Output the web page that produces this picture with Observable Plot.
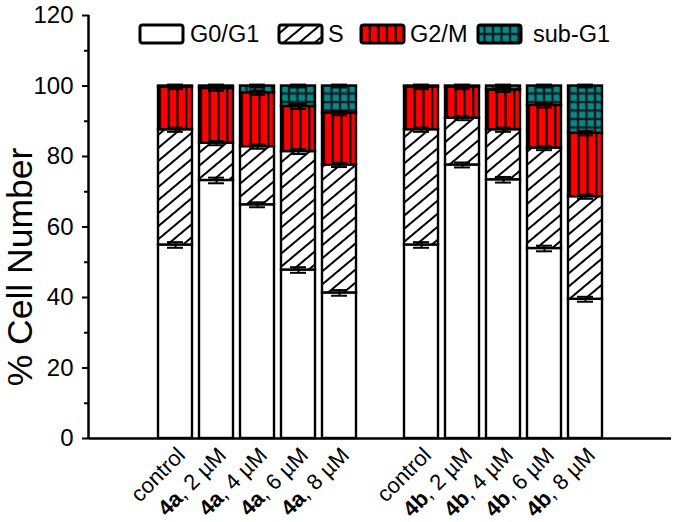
<!DOCTYPE html>
<html><head><meta charset="utf-8">
<script src="https://cdn.jsdelivr.net/npm/d3@7"></script>
<script src="https://cdn.jsdelivr.net/npm/@observablehq/plot@0.6"></script>
<style>
body{margin:0;background:#fff;}
#chart svg{display:block;}
</style></head>
<body><div id="chart"></div>
<script>
// ---- data ----
const ids = ["a0","a2","a4","a6","a8","gap","b0","b2","b4","b6","b8"];
const tickLabels = ["control","4a, 2 µM","4a, 4 µM","4a, 6 µM","4a, 8 µM","","control","4b, 2 µM","4b, 4 µM","4b, 6 µM","4b, 8 µM"];
const phases = ["G0/G1","S","G2/M","sub-G1"];
const g0g1  = [54.9, 73.2, 66.3, 47.8, 41.3, null, 54.9, 77.6, 73.4, 53.9, 39.5];
const sPh   = [32.7, 10.6, 16.5, 33.6, 36.3, null, 32.7, 13.3, 14.2, 28.5, 29.1];
const g2m   = [12.1, 15.5, 15.3, 12.8, 14.7, null, 12.1,  8.8, 11.3, 12.1, 18.0];
const subG1 = [ 0.3,  0.7,  1.9,  5.8,  7.7, null,  0.3,  0.3,  1.1,  5.5, 13.4];
const errG0 = [0.8, 0.8, 0.7, 0.8, 0.8, null, 0.8, 0.7, 0.8, 0.8, 0.7];
const errS  = [0.6, 0.6, 0.6, 0.7, 0.6, null, 0.6, 0.6, 0.6, 0.6, 0.6];
const errG2 = [0.6, 0.6, 0.6, 0.7, 0.6, null, 0.6, 0.6, 0.6, 0.6, 0.6];
const errSub= [0.4, 0.4, 0.4, 0.4, 0.4, null, 0.4, 0.4, 0.4, 0.4, 0.4];
const yTicks = [0, 20, 40, 60, 80, 100, 120];
const yMinor = [10, 30, 50, 70, 90, 110];

// ---- build tables ----
const series = [g0g1, sPh, g2m, subG1];
const errs = [errG0, errS, errG2, errSub];
const rows = [];
const errRows = [];
ids.forEach((id, i) => {
  if (g0g1[i] == null) return;
  let cum = 0;
  phases.forEach((p, k) => {
    rows.push({id, phase: p, value: series[k][i]});
    cum += series[k][i];
    errRows.push({id, top: cum, err: errs[k][i]});
  });
});
const labelOf = Object.fromEntries(ids.map((d, i) => [d, tickLabels[i]]));
const FONT = "Arial, 'Liberation Sans', sans-serif";

const plot = Plot.plot({
  width: 675,
  height: 522,
  marginLeft: 89,
  marginRight: 4,
  marginTop: 15,
  marginBottom: 84,
  style: {fontFamily: FONT, color: "black", background: "white", overflow: "visible"},
  x: {type: "band", domain: ids, paddingInner: 0.179, paddingOuter: 1.62, axis: null, label: null},
  y: {domain: [0, 120], axis: null, label: null},
  color: {domain: phases, range: ["white", "url(#pS)", "url(#pG2)", "url(#pSub)"]},
  marks: [
    Plot.barY(rows, Plot.stackY({order: null}, {x: "id", y: "value", fill: "phase", stroke: "black", strokeWidth: 2.4})),
    Plot.ruleX(errRows, {x: "id", y1: d => d.top - d.err, y2: d => d.top + d.err, stroke: "black", strokeWidth: 2}),
    Plot.tickY(errRows, {x: "id", y: d => d.top + d.err, stroke: "black", strokeWidth: 2, insetLeft: 9, insetRight: 9}),
    Plot.tickY(errRows, {x: "id", y: d => d.top - d.err, stroke: "black", strokeWidth: 2, insetLeft: 9, insetRight: 9}),
    Plot.ruleY([0], {stroke: "black", strokeWidth: 2.5}),
    Plot.axisY(yTicks, {label: null, tickSize: 7, tickPadding: 9, fontSize: 24, strokeWidth: 2}),
    Plot.axisY(yMinor, {label: null, tickSize: 5, tickFormat: () => "", strokeWidth: 2}),
    Plot.axisX({label: null, tickSize: 0, tickPadding: 12, tickRotate: -45, fontSize: 22, dx: 6, dy: 1, tickFormat: d => labelOf[d]})
  ]
});

const svg = d3.select(plot);
const defs = svg.insert("defs", ":first-child");
// S phase hatch
const ph = defs.append("pattern").attr("id", "pS").attr("patternUnits", "userSpaceOnUse")
  .attr("width", 10).attr("height", 10).attr("patternTransform", "rotate(50)");
ph.append("rect").attr("width", 10).attr("height", 10).attr("fill", "white");
ph.append("line").attr("x1", 5).attr("x2", 5).attr("y1", -1).attr("y2", 11).attr("stroke", "black").attr("stroke-width", 2);
// G2/M vertical lines
const pg = defs.append("pattern").attr("id", "pG2").attr("patternUnits", "objectBoundingBox")
  .attr("patternContentUnits", "objectBoundingBox").attr("x", 0.02).attr("y", 0).attr("width", 0.26).attr("height", 1);
pg.append("rect").attr("width", 0.26).attr("height", 1).attr("fill", "#ff0000");
pg.append("rect").attr("width", 0.065).attr("height", 1).attr("fill", "black");
const pgl = defs.append("pattern").attr("id", "pG2L").attr("patternUnits", "objectBoundingBox")
  .attr("patternContentUnits", "objectBoundingBox").attr("x", 0.1).attr("y", 0).attr("width", 0.2).attr("height", 1);
pgl.append("rect").attr("width", 0.2).attr("height", 1).attr("fill", "#ff0000");
pgl.append("rect").attr("x", 0.08).attr("width", 0.05).attr("height", 1).attr("fill", "black");
// sub-G1 grid
const pt = defs.append("pattern").attr("id", "pSub").attr("patternUnits", "userSpaceOnUse")
  .attr("width", 8.5).attr("height", 8.5);
pt.append("rect").attr("width", 8.5).attr("height", 8.5).attr("fill", "#1a1a1a");
pt.append("rect").attr("x", 1.2).attr("y", 1.2).attr("width", 6.1).attr("height", 6.1).attr("fill", "#008c8c");

// bold compound names in x tick labels
svg.selectAll('g[aria-label="x-axis tick label"] text').each(function() {
  const t = this.textContent;
  const m = t.match(/^(4[ab])(.*)$/);
  if (!m) return;
  const el = d3.select(this);
  el.text(null);
  el.append("tspan").attr("font-weight", "bold").text(m[1]);
  el.append("tspan").text(m[2]);
});

// y axis line
const ys = plot.scale("y");
svg.append("line").attr("x1", 88.5).attr("x2", 88.5).attr("y1", ys.apply(0) + 1).attr("y2", ys.apply(120))
  .attr("stroke", "black").attr("stroke-width", 2.5);

// y title
svg.append("text").attr("transform", "translate(32,267) rotate(-90)").attr("text-anchor", "middle")
  .attr("font-size", 35.5).attr("font-family", FONT).attr("fill", "black").text("% Cell Number");

// legend
const legendItems = [
  {label: "G0/G1", fill: "white", sx: 140, tx: 190},
  {label: "S", fill: "url(#pS)", sx: 279, tx: 328},
  {label: "G2/M", fill: "url(#pG2L)", sx: 361, tx: 410},
  {label: "sub-G1", fill: "url(#pSub)", sx: 478, tx: 533}
];
const lg = svg.append("g").attr("font-family", FONT).attr("font-size", 23.5).attr("text-anchor", "start");
legendItems.forEach(d => {
  lg.append("rect").attr("x", d.sx).attr("y", 25).attr("width", 43).attr("height", 18).attr("rx", 2.5)
    .attr("fill", d.fill).attr("stroke", "black").attr("stroke-width", 3);
  lg.append("text").attr("x", d.tx).attr("y", 42).attr("fill", "black").text(d.label);
});

document.getElementById("chart").appendChild(plot);
</script>
</body></html>
